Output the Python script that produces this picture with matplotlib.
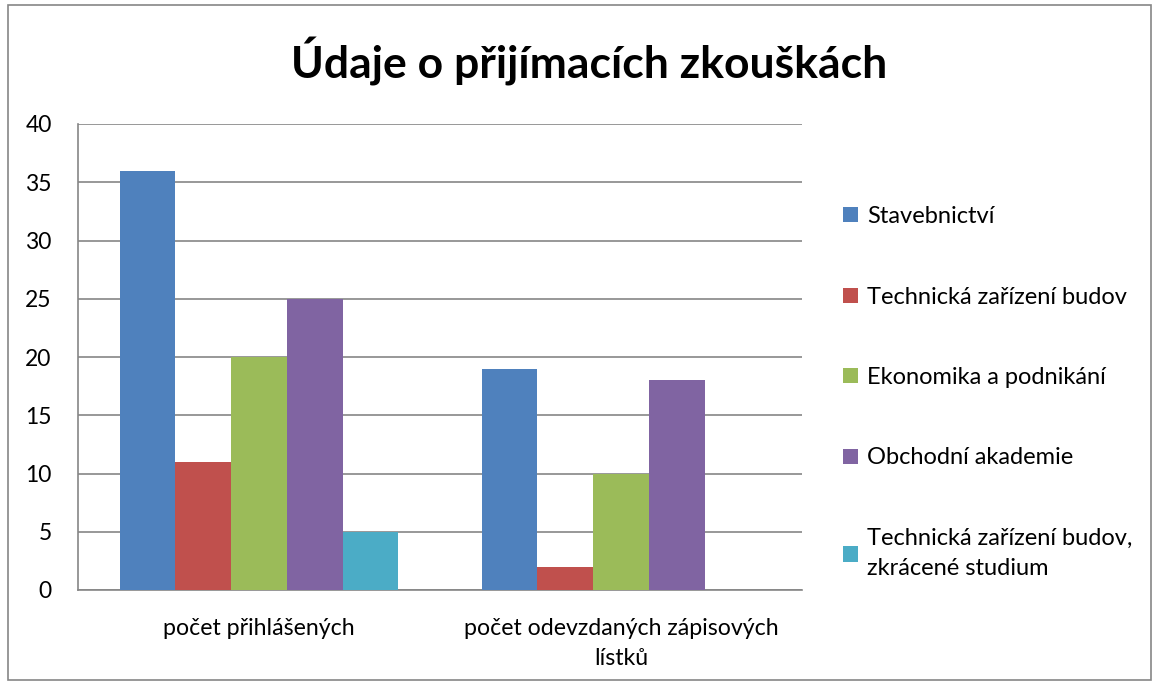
import matplotlib
matplotlib.use("Agg")
import matplotlib.pyplot as plt
from matplotlib.patches import Rectangle
import numpy as np

plt.rcParams['font.family'] = ['Lato', 'DejaVu Sans']

categories = ["počet přihlášených", "počet odevzdaných zápisových\nlístků"]
series_names = ["Stavebnictví", "Technická zařízení budov", "Ekonomika a podnikání",
                "Obchodní akademie", "Technická zařízení budov,\nzkrácené studium"]
values = [
    [36, 19],
    [11, 2],
    [20, 10],
    [25, 18],
    [5, 0],
]
colors = ["#4F81BD", "#C0504D", "#9BBB59", "#8064A2", "#4BACC6"]
yticks = [0, 5, 10, 15, 20, 25, 30, 35, 40]

fig = plt.figure(figsize=(11.59, 6.81), dpi=100)
ax = fig.add_axes([78/1159, 91/681, (802-78)/1159, (590-124)/681])

n = len(series_names)
w = 1/6.5
x = np.arange(len(categories))
handles = []
for i, (name, vals, c) in enumerate(zip(series_names, values, colors)):
    offs = (i - (n-1)/2) * w
    b = ax.bar(x + offs, vals, width=w, color=c, label=name, zorder=3)
    handles.append(b)

ax.set_xlim(-0.5, 1.5)
ax.set_ylim(0, 40)
ax.set_yticks(yticks)
ax.set_yticklabels([str(t) for t in yticks], fontsize=16.5)
ax.set_xticks(x)
ax.set_xticklabels(categories, fontsize=16.7, linespacing=1.55)
ax.tick_params(axis='y', length=0, pad=19)
ax.tick_params(axis='x', length=0, pad=20)
ax.yaxis.grid(True, color="#868686", linewidth=1.2, zorder=0)
for s in ['top', 'right']:
    ax.spines[s].set_visible(False)
for s in ['left', 'bottom']:
    ax.spines[s].set_color("#868686")
    ax.spines[s].set_linewidth(1.2)

fig.text(589/1159, 1 - 62/681, "Údaje o přijímacích zkouškách", fontsize=32,
         fontweight='bold', ha='center', va='center')

leg = fig.legend(handles=handles, labels=series_names, loc='upper left',
                 bbox_to_anchor=(843/1159, 1 - 206/681), frameon=False,
                 fontsize=17, labelspacing=2.52, handlelength=0.62, handleheight=0.62,
                 handletextpad=0.4, borderaxespad=0, borderpad=0)
for t in leg.get_texts():
    t.set_linespacing(1.55)

fig.patches.append(Rectangle((8/1159, 0.002), 1 - 16/1159, 0.99, transform=fig.transFigure,
                             fill=False, edgecolor="#868686", linewidth=1.2))

fig.savefig("out.png", dpi=100)
